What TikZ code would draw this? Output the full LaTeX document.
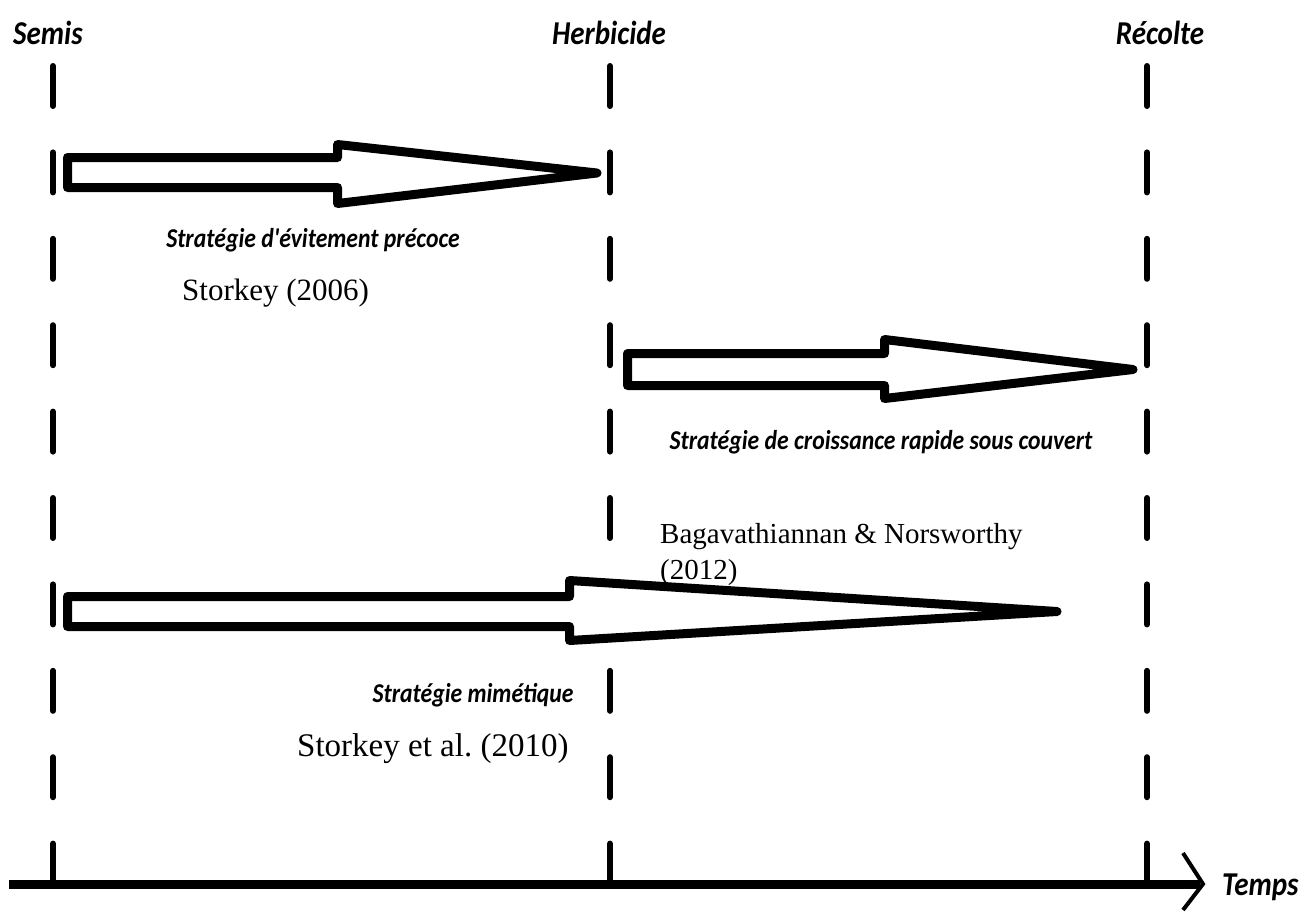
\documentclass[tikz,border=0pt]{standalone}
\usepackage{fontspec}
\setmainfont{Liberation Serif}
\newfontfamily\calfont{Carlito}
\begin{document}
\begin{tikzpicture}[x=1pt,y=-1pt,
  timeline/.style={line width=6pt, line cap=round, dash pattern=on 40pt off 46.4pt},
  axisline/.style={line width=9pt},
  chevron/.style={line width=4pt},
  fatarrow/.style={line width=9pt, line join=round, fill=white},
  event/.style={font=\calfont\bfseries\itshape\fontsize{29}{34}\selectfont, inner sep=0pt, yscale=1.15, transform shape},
  strat/.style={font=\calfont\bfseries\itshape\fontsize{23.7}{28}\selectfont, inner sep=0pt, yscale=1.15, transform shape},
  ref/.style={font=\fontsize{31}{36}\selectfont, inner sep=0pt},
  refsmall/.style={font=\fontsize{29}{34}\selectfont, inner sep=0pt}]
\useasboundingbox (0,0) rectangle (1306,911);
\fill[white] (0,0) rectangle (1306,911);

% event labels
\node[event, anchor=base] (semis) at (48,44) {Semis};
\node[event, anchor=base] (herb) at (609,44) {Herbicide};
\node[event, anchor=base] (recolte) at (1160,44) {Récolte};

% dashed time marks
\coordinate (semisTop) at (53,66);
\coordinate (semisBot) at (53,884);
\coordinate (herbTop) at (610,66);
\coordinate (herbBot) at (610,884);
\coordinate (recTop) at (1147,66);
\coordinate (recBot) at (1147,884);
\draw[timeline] (semisTop) -- (semisBot);
\draw[timeline] (herbTop) -- (herbBot);
\draw[timeline] (recTop) -- (recBot);

% time axis
\coordinate (axL) at (9,884);
\coordinate (axR) at (1200,884);
\coordinate (chevTop) at (1183,853);
\coordinate (chevTip) at (1203,884);
\coordinate (chevBot) at (1183,910);
\draw[axisline] (axL) -- (axR);
\draw[chevron] (chevTop) -- (chevTip) -- (chevBot);
\node[event, anchor=base west] (temps) at (1222,895) {Temps};

% arrow 1: early avoidance
\coordinate (a1tip) at (597,173);
\draw[fatarrow] (67.5,157.5) -- (337.5,157.5) -- (337.5,144.5) -- (a1tip)
  -- (337.5,203.5) -- (337.5,187.5) -- (67.5,187.5) -- cycle;
\node[strat] (s1) at (313,240) {Stratégie d\textquotesingle évitement précoce};
\node[ref, anchor=base west] (r1) at (182,300) {Storkey (2006)};

% arrow 2: fast growth under cover
\coordinate (a2tip) at (1133,369.5);
\draw[fatarrow] (627.5,353.5) -- (884.5,353.5) -- (884.5,339.5) -- (a2tip)
  -- (884.5,398.5) -- (884.5,385.5) -- (627.5,385.5) -- cycle;
\node[strat] (s2) at (881,442) {Stratégie de croissance rapide sous couvert};
\node[refsmall, anchor=base west] (r2a) at (660,543) {Bagavathiannan \& Norsworthy};
\node[refsmall, anchor=base west] (r2b) at (660,579) {(2012)};

% arrow 3: mimetic strategy
\coordinate (a3tip) at (1057,611.5);
\draw[fatarrow] (67.5,596.5) -- (569.5,596.5) -- (569.5,580.5) -- (a3tip)
  -- (569.5,640.5) -- (569.5,626.5) -- (67.5,626.5) -- cycle;
\node[strat] (s3) at (473,695) {Stratégie mimétique};
\node[ref, font=\fontsize{33}{38}\selectfont, anchor=base west] (r3) at (297,756) {Storkey et al.\ (2010)};
\end{tikzpicture}
\end{document}
